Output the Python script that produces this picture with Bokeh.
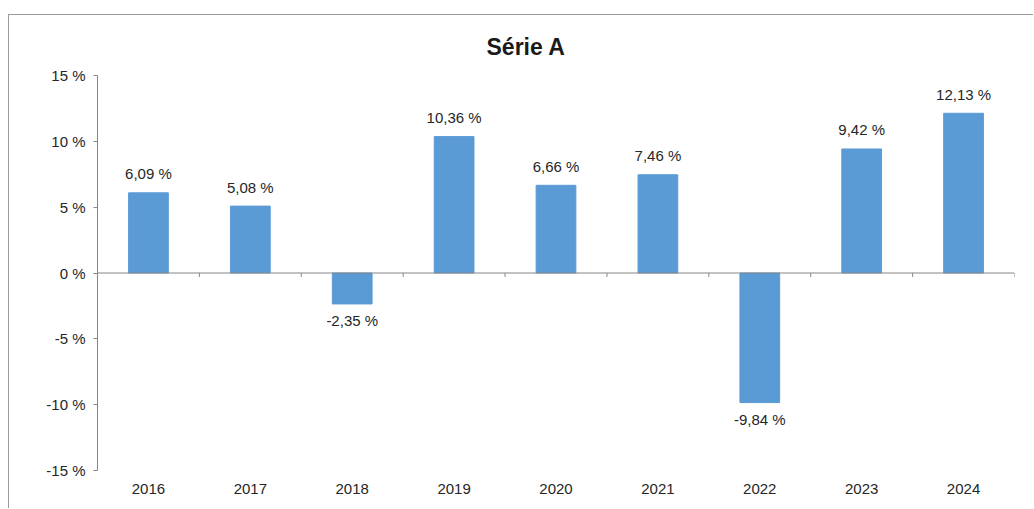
from bokeh.plotting import figure
from bokeh.models import FactorRange, Range1d, FixedTicker, Span, ColumnDataSource
from bokeh.core.properties import value
from bokeh.embed import file_html
from bokeh.resources import INLINE

title_text = "Série A"
years = ["2016", "2017", "2018", "2019", "2020", "2021", "2022", "2023", "2024"]
values = [6.09, 5.08, -2.35, 10.36, 6.66, 7.46, -9.84, 9.42, 12.13]
value_labels = ["6,09 %", "5,08 %", "-2,35 %", "10,36 %", "6,66 %", "7,46 %", "-9,84 %", "9,42 %", "12,13 %"]
y_ticks = [-15, -10, -5, 0, 5, 10, 15]
y_tick_labels = ["-15 %", "-10 %", "-5 %", "0 %", "5 %", "10 %", "15 %"]

FONT = "Liberation Sans"
BAR = "#5B9BD5"
AXIS = "#868686"
TXT = "#262626"

p = figure(width=1025, height=494,
           x_range=FactorRange(factors=years, range_padding=0),
           y_range=Range1d(y_ticks[0], y_ticks[-1]),
           output_backend="svg", toolbar_location=None,
           min_border_left=88, min_border_right=20,
           min_border_top=60, min_border_bottom=39)
p.margin = (14, 0, 0, 8)
p.styles = {"border-top": "1px solid #9a9a9a", "border-left": "1px solid #9a9a9a"}

p.vbar(x=years, top=values, width=0.39, fill_color=BAR, line_color=BAR)

p.add_layout(Span(location=0, dimension="width", line_color=AXIS, line_width=1))
bounds = list(range(1, len(years) + 1))
p.segment(x0=bounds, y0=[0] * len(bounds), x1=bounds, y1=[-0.3] * len(bounds),
          line_color=AXIS, line_width=1)

src = ColumnDataSource(dict(x=years, y=values, text=value_labels,
                            yoff=[-19 if v >= 0 else 17 for v in values]))
p.text(x="x", y="y", text="text", y_offset="yoff", source=src,
       text_align="center", text_baseline="middle",
       text_font=value(FONT), text_font_size="15px", text_color=TXT)

p.xgrid.visible = False
p.ygrid.visible = False
p.outline_line_color = None
p.background_fill_color = "white"
p.border_fill_color = "white"

xa = p.xaxis[0]
xa.axis_line_color = None
xa.major_tick_line_color = None
xa.minor_tick_line_color = None
xa.major_label_standoff = 7
xa.major_label_text_font = FONT
xa.major_label_text_font_size = "15px"
xa.major_label_text_color = TXT

ya = p.yaxis[0]
ya.ticker = FixedTicker(ticks=y_ticks)
ya.major_label_overrides = {t: l for t, l in zip(y_ticks, y_tick_labels)}
ya.axis_line_color = AXIS
ya.major_tick_line_color = AXIS
ya.major_tick_out = 4
ya.major_tick_in = 0
ya.minor_tick_line_color = None
ya.major_label_standoff = 8
ya.major_label_text_font = FONT
ya.major_label_text_font_size = "15px"
ya.major_label_text_color = TXT

p.title.text = title_text
p.title.text_font = FONT
p.title.text_font_size = "23px"
p.title.text_font_style = "bold"
p.title.text_color = "#1a1a1a"
p.title.align = "left"
p.title.offset = 389
p.title.standoff = 31

open("out.html", "w").write(file_html(p, INLINE))
